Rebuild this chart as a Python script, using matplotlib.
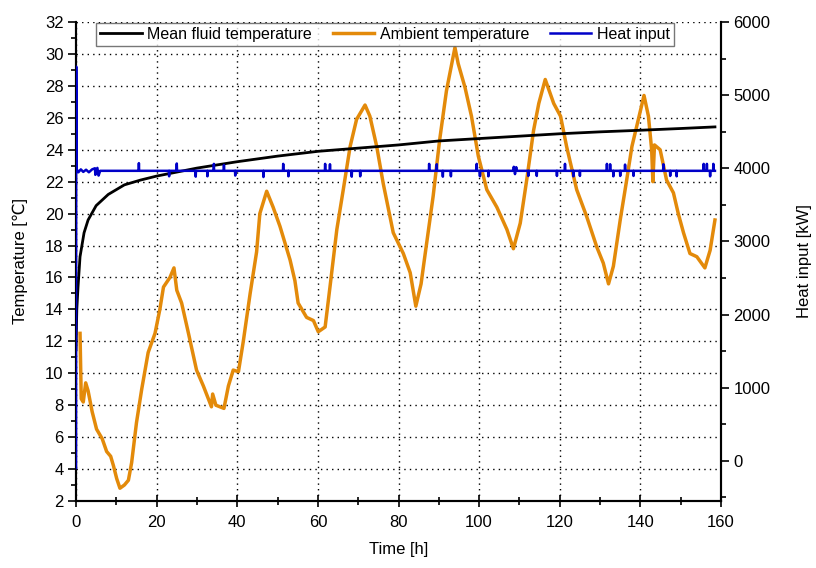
import matplotlib
matplotlib.use("Agg")
import matplotlib.pyplot as plt
from matplotlib.ticker import MultipleLocator

plt.rcParams['font.family'] = ['Liberation Sans', 'DejaVu Sans']

# ---------------- data ----------------
fluid_t = [0.0, 0.2, 0.5, 1.0, 2.0, 3.0, 5.0, 8.0, 12.0, 16.0, 20.0, 25.0, 30.0, 40.0,
           50.0, 60.0, 70.0, 80.0, 90.0, 100.0, 110.0, 120.0, 130.0, 140.0, 150.0, 158.5]
fluid_T = [11.5, 14.0, 15.4, 17.3, 18.8, 19.6, 20.5, 21.2, 21.8, 22.1, 22.35, 22.6, 22.85, 23.25,
           23.6, 23.9, 24.1, 24.3, 24.55, 24.7, 24.85, 25.0, 25.12, 25.22, 25.33, 25.43]

amb_t = [1.0, 1.3, 1.8, 2.4, 3.0, 4.0, 5.1, 6.5, 7.6, 8.6, 9.3, 10.1, 10.9, 12.0, 13.0, 13.8,
         15.0, 16.3, 17.9, 19.6, 20.8, 21.7, 23.3, 24.3, 25.0, 26.2, 27.9, 29.9, 31.6, 33.6,
         33.9, 34.7, 36.7, 37.8, 39.0, 40.3, 41.5, 43.2, 44.8, 45.6, 47.3, 48.9, 50.6, 53.1,
         54.3, 55.1, 57.2, 58.9, 60.1, 61.8, 63.0, 64.7, 66.3, 68.0, 69.6, 71.7, 72.9, 74.6,
         76.2, 78.7, 81.2, 82.9, 84.3, 85.6, 86.3, 88.6, 90.2, 91.9, 94.0, 94.8, 96.5, 98.1,
         99.8, 101.9, 104.4, 106.9, 108.5, 110.2, 111.8, 113.5, 114.8, 116.4, 118.5, 120.2,
         121.7, 124.2, 126.7, 129.2, 130.8, 132.1, 133.3, 135.0, 136.6, 137.9, 139.5, 140.9,
         142.0, 142.8, 143.1, 143.5, 144.9, 146.5, 148.2, 149.4, 150.7, 152.3, 154.0, 156.0,
         157.3, 158.5]
amb_T = [12.5, 8.4, 8.2, 9.4, 8.9, 7.6, 6.5, 5.9, 5.1, 4.8, 4.2, 3.4, 2.8, 3.0, 3.3, 4.4,
         6.9, 9.0, 11.3, 12.5, 14.0, 15.4, 16.0, 16.6, 15.2, 14.4, 12.5, 10.2, 9.2, 7.9,
         8.7, 8.0, 7.8, 9.2, 10.2, 10.1, 12.0, 15.0, 17.6, 20.0, 21.4, 20.4, 19.2, 17.1,
         15.8, 14.4, 13.5, 13.3, 12.6, 12.9, 15.4, 19.0, 21.5, 24.2, 25.9, 26.8, 26.1, 24.2,
         21.9, 18.8, 17.5, 16.3, 14.2, 15.6, 16.9, 21.1, 24.6, 27.7, 30.4, 29.4, 27.9, 26.1,
         23.6, 21.5, 20.4, 19.0, 17.8, 19.4, 22.1, 25.2, 26.9, 28.4, 26.9, 26.1,
         24.2, 21.5, 19.8, 17.9, 16.9, 15.6, 16.7, 19.6, 22.1, 24.2, 25.9, 27.4,
         26.1, 24.0, 22.0, 24.3, 24.0, 22.1, 21.3, 20.0, 18.8, 17.5, 17.3, 16.6,
         17.7, 19.6]

heat_base = 3965
heat_start_t = [0.0, 0.05, 0.15, 0.6, 1.2, 1.8, 2.5, 3.2, 4.0, 4.7, 4.8, 5.3, 5.6, 6.0]
heat_start_v = [-100, 5390, 3990, 3945, 3985, 3950, 3980, 3945, 3985, 4000, 3910, 4005, 3900, 3965]
spike_t = [15.6, 23.1, 25.0, 29.7, 32.6, 34.2, 36.7, 39.5, 46.5, 51.4, 52.7, 61.8, 63.0,
           68.4, 70.5, 87.6, 89.5, 91.0, 93.0, 99.4, 100.2, 102.3, 108.6, 108.9, 109.2,
           112.2, 114.3, 119.3, 121.3, 123.4, 125.0, 131.7, 132.5, 133.3, 135.0, 136.2,
           138.3, 145.7, 147.4, 149.0, 155.7, 156.5, 157.3, 158.1]
spike_v = [4070, 3890, 4065, 3885, 3890, 4060, 4045, 3900, 3880, 4060, 3890, 4060, 4055,
           3885, 3890, 4060, 4055, 3885, 3890, 4060, 3890, 3890, 4020, 3920, 4015,
           3895, 3895, 3895, 4060, 3890, 3895, 4060, 4055, 3890, 3895, 4050,
           3895, 4055, 3895, 3890, 4060, 4060, 3890, 4060]
heat_end_t = 158.5

# assemble heat series from the listed values
heat_t = list(heat_start_t)
heat_v = list(heat_start_v)
for st, sv in zip(spike_t, spike_v):
    heat_t += [st - 0.06, st, st + 0.06]
    heat_v += [heat_base, sv, heat_base]
heat_t.append(heat_end_t)
heat_v.append(heat_base)

# ---------------- figure ----------------
fig = plt.figure(figsize=(8.16, 5.68), dpi=100)
ax = fig.add_axes([76/816, 1-501/568, (721-76)/816, (501-22)/568])
ax2 = ax.twinx()

orange = '#E38A0A'
blue = '#0000C8'

l1, = ax.plot(fluid_t, fluid_T, color='black', lw=2.0, label='Mean fluid temperature', zorder=3)
l2, = ax.plot(amb_t, amb_T, color=orange, lw=2.5, label='Ambient temperature', zorder=2)
l3, = ax2.plot(heat_t, heat_v, color=blue, lw=1.8, label='Heat input', zorder=3)

ax.set_xlim(0, 160)
ax.set_ylim(2, 32)
ax2.set_ylim(-550, 6000)

ax.xaxis.set_major_locator(MultipleLocator(20))
ax.xaxis.set_minor_locator(MultipleLocator(10))
ax.yaxis.set_major_locator(MultipleLocator(2))
ax.yaxis.set_minor_locator(MultipleLocator(1))
ax2.yaxis.set_major_locator(MultipleLocator(1000))
ax2.yaxis.set_minor_locator(MultipleLocator(500))

ax.grid(True, which='major', color='black', linestyle=(0, (1, 3)), linewidth=1.0)
ax.set_axisbelow(True)

for a in (ax, ax2):
    a.spines['top'].set_visible(False)
    for s in ('left', 'right', 'bottom'):
        a.spines[s].set_linewidth(1.5)

ax.tick_params(axis='y', which='major', direction='out', length=6, width=1.2, labelsize=12, pad=3)
ax.tick_params(axis='y', which='minor', direction='out', length=3.5, width=1.2)
ax.tick_params(axis='x', which='major', direction='inout', length=8, width=1.2, labelsize=12, pad=6)
ax.tick_params(axis='x', which='minor', direction='inout', length=6, width=1.2)
ax2.tick_params(axis='y', which='major', direction='out', length=6, width=1.2, labelsize=12, pad=3)
ax2.tick_params(axis='y', which='minor', direction='out', length=3.5, width=1.2)

ax.set_xlabel('Time [h]', fontsize=12, labelpad=9)
ax.set_ylabel('Temperature [℃]', fontsize=12, labelpad=12)
ax2.set_ylabel('Heat input [kW]', fontsize=12, labelpad=19)

leg = ax2.legend(handles=[l1, l2, l3], ncol=3, loc='upper left',
                 bbox_to_anchor=(96/816, 1-23/568), bbox_transform=fig.transFigure,
                 fontsize=11.5, frameon=True, fancybox=False, handlelength=2.6,
                 handletextpad=0.35, columnspacing=1.3, borderpad=0.25,
                 borderaxespad=0)
leg.get_frame().set_edgecolor('#555555')
leg.get_frame().set_linewidth(1.0)

fig.savefig('out.png', dpi=100)
